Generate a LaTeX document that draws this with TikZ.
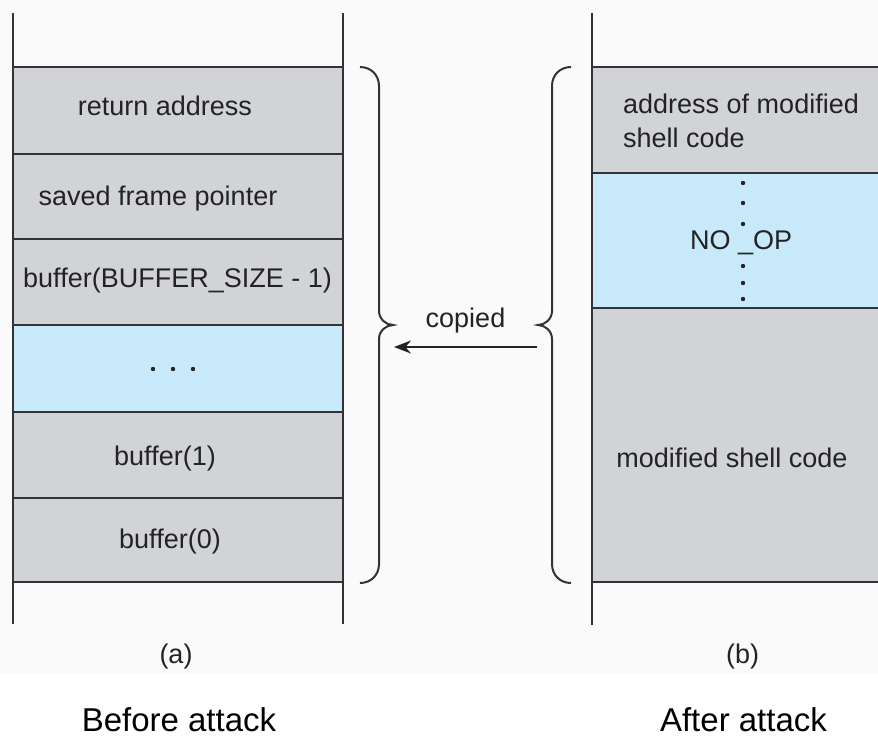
\documentclass[tikz,border=0pt]{standalone}
\usepackage{fontspec}
\setmainfont{Liberation Sans}
\usetikzlibrary{arrows.meta}
\definecolor{cellgray}{RGB}{209,211,214}
\definecolor{cellblue}{RGB}{199,233,249}
\definecolor{ink}{RGB}{35,35,38}
\definecolor{edge}{RGB}{50,50,55}
\definecolor{paper}{RGB}{250,250,250}
\begin{document}
\begin{tikzpicture}[x=1pt,y=-1pt,
  cell/.style={draw=edge,line width=2pt},
  lbl/.style={font=\fontsize{27}{32}\selectfont,text=ink,anchor=base,inner sep=0pt},
  caption/.style={font=\fontsize{33}{38}\selectfont,text=black,anchor=base,inner sep=0pt},
  rail/.style={draw=edge,line width=2pt},
  brace/.style={draw=edge,line width=2pt},
  dot/.style={fill=ink}]
\useasboundingbox (0,0) rectangle (878,737);
\fill[white] (0,0) rectangle (878,737);
\fill[paper] (0,0) rectangle (878,673);

% stack (a): before the attack
\filldraw[cell,fill=cellgray] (12.5,67) rectangle (342.5,154);
\filldraw[cell,fill=cellgray] (12.5,154) rectangle (342.5,239);
\filldraw[cell,fill=cellgray] (12.5,239) rectangle (342.5,325);
\filldraw[cell,fill=cellblue] (12.5,325) rectangle (342.5,412);
\filldraw[cell,fill=cellgray] (12.5,412) rectangle (342.5,498);
\filldraw[cell,fill=cellgray] (12.5,498) rectangle (342.5,582);
\draw[rail] (12.5,13) -- (12.5,624);
\draw[rail] (342.5,13) -- (342.5,624);

\node[lbl] (ret) at (165,115) {return address};
\node[lbl] (sfp) at (158,205) {saved frame pointer};
\node[lbl] (bufn) at (177.5,287) {buffer(BUFFER\_SIZE - 1)};
\foreach \x in {153,173,193} \fill[dot] (\x,369) circle (2.2);
\node[lbl] (buf1) at (165,465) {buffer(1)};
\node[lbl] (buf0) at (170,548) {buffer(0)};

% stack (b): after the attack
\filldraw[cell,fill=cellgray] (592,67) rectangle (882,173);
\filldraw[cell,fill=cellblue] (592,173) rectangle (882,308);
\filldraw[cell,fill=cellgray] (592,308) rectangle (882,582);
\draw[rail] (592,13) -- (592,625);

\node[lbl,anchor=base west] (addr1) at (623,113) {address of modified};
\node[lbl,anchor=base west] (addr2) at (623,147) {shell code};
\node[lbl,anchor=base west] (noop) at (690,249) {NO \_OP};
\foreach \y in {183,203,224,266,283,299} \fill[dot] (743,\y) circle (2.2);
\node[lbl] (msc) at (732,467) {modified shell code};

% braces
\draw[brace] (360,67) .. controls (371,67) and (379,75) .. (379,86) -- (379,311)
  .. controls (379,319) and (386,325) .. (393,325)
  .. controls (386,325) and (379,331) .. (379,339) -- (379,564)
  .. controls (379,575) and (371,583) .. (360,583);
\draw[brace] (571,67) .. controls (560,67) and (552,75) .. (552,86) -- (552,311)
  .. controls (552,319) and (545,325) .. (538,325)
  .. controls (545,325) and (552,331) .. (552,339) -- (552,564)
  .. controls (552,575) and (560,583) .. (571,583);

% copy arrow
\node[lbl] (copied) at (465.5,327) {copied};
\coordinate (src) at (537,347);
\coordinate (dst) at (394,347);
\draw[-{Stealth[length=17pt,width=13pt]},line width=2pt,draw=ink] (src) -- (dst);

% captions
\node[lbl] (capa) at (176,663) {(a)};
\node[lbl] (capb) at (742.5,663) {(b)};
\node[caption] (before) at (179,731) {Before attack};
\node[caption] (after) at (743.5,731) {After attack};
\end{tikzpicture}
\end{document}
